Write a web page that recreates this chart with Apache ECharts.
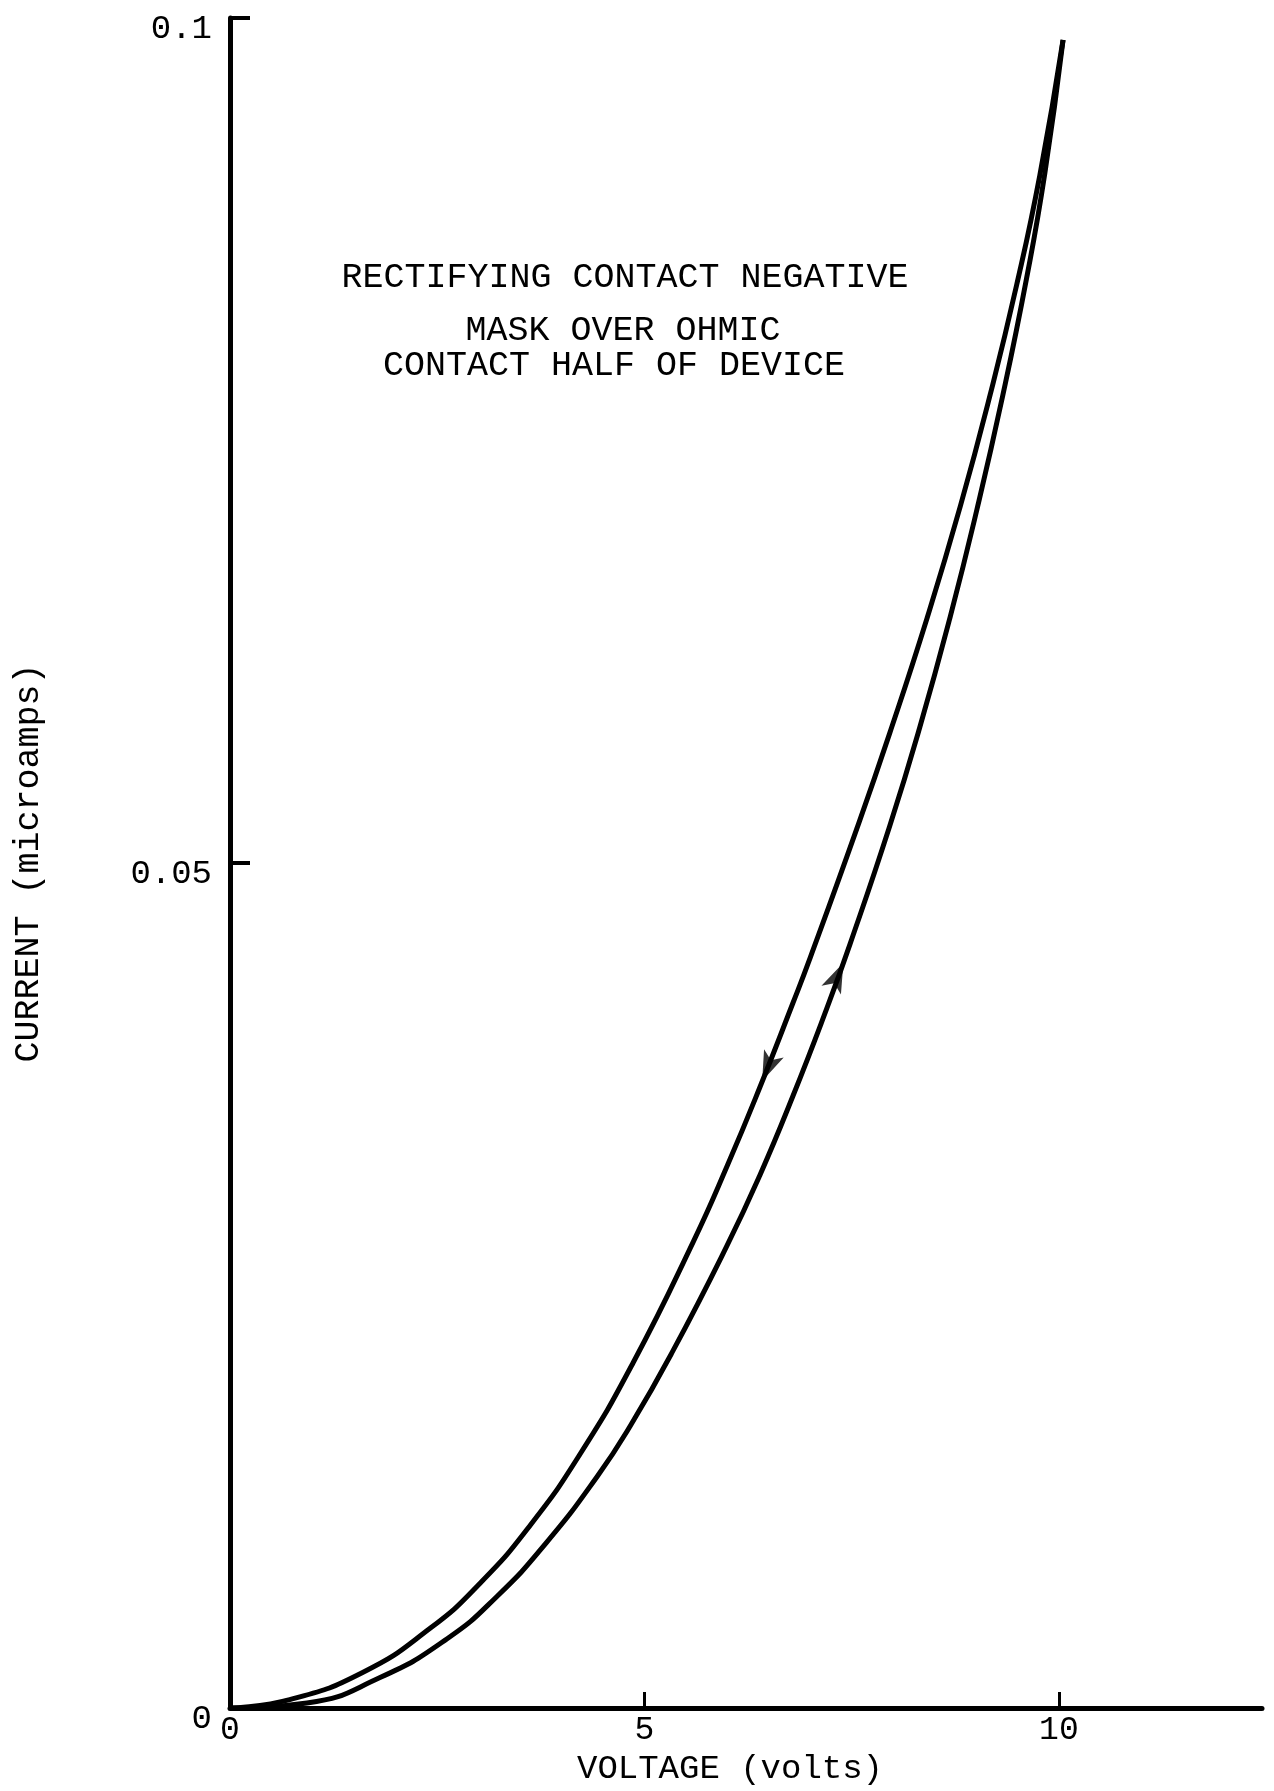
<!DOCTYPE html>
<html>
<head>
<meta charset="utf-8">
<script src="https://cdn.jsdelivr.net/npm/echarts@6/dist/echarts.min.js"></script>
<style>
  html, body { margin: 0; padding: 0; background: #ffffff; }
  #chart { width: 1274px; height: 1791px; }
</style>
</head>
<body>
<div id="chart"></div>
<script>
// Upper branch (voltage decreasing): volts / microamps
const upperVolts   = [0, 0.72, 1.60, 2.41, 3.02, 3.62, 4.22, 4.86, 5.59, 6.00, 6.39, 6.79, 7.00, 7.56, 7.96, 8.41, 8.81, 9.17, 9.49, 9.77, 10.05];
const upperCurrent = [0, 0.0005, 0.0021, 0.0047, 0.0074, 0.0108, 0.0150, 0.0204, 0.0276, 0.0321, 0.0367, 0.0417, 0.0444, 0.0520, 0.0577, 0.0645, 0.0711, 0.0777, 0.0842, 0.0907, 0.0987];
// Lower branch (voltage increasing)
const lowerVolts   = [0, 0.93, 1.81, 2.62, 3.22, 3.82, 4.43, 4.83, 5.34, 5.99, 6.39, 6.79, 7.20, 7.48, 7.96, 8.32, 8.69, 9.01, 9.32, 9.61, 9.83, 10.05];
const lowerCurrent = [0, 0.0003, 0.0018, 0.0041, 0.0066, 0.0098, 0.0137, 0.0167, 0.0211, 0.0273, 0.0315, 0.0362, 0.0414, 0.0452, 0.0522, 0.0580, 0.0646, 0.0709, 0.0776, 0.0846, 0.0908, 0.0987];
// Direction arrows: volts, microamps, rotation (degrees)
const arrowVolts   = [6.42, 7.40];
const arrowCurrent = [0.0371, 0.0441];
const arrowRotate  = [157, -24];
// Axis ticks / labels
const xLabelValues = [0, 5, 10];
const xTickValues  = [5, 10];
const annotationLines = ['RECTIFYING CONTACT NEGATIVE', 'MASK OVER OHMIC', 'CONTACT HALF OF DEVICE'];
const xAxisTitle = 'VOLTAGE (volts)';
const yAxisTitle = 'CURRENT (microamps)';

const FONT = '"Liberation Mono", "DejaVu Sans Mono", monospace';
const INK = '#000000';

const chart = echarts.init(document.getElementById('chart'), null, { renderer: 'canvas' });

const pairs = (xs, ys) => xs.map((x, i) => [x, ys[i]]);

const option = {
  backgroundColor: '#ffffff',
  animation: false,
  grid: { left: 230, top: 18, right: 12, bottom: 83, containLabel: false },
  xAxis: {
    type: 'value',
    min: 0,
    max: 12.45,
    interval: 5,
    name: xAxisTitle,
    nameLocation: 'middle',
    nameGap: 42,
    nameTextStyle: { fontFamily: FONT, fontSize: 34, color: INK, padding: [0, 32, 0, 0] },
    axisLine: { show: true, lineStyle: { color: INK, width: 5 } },
    axisTick: { show: true, inside: true, length: 16, lineStyle: { color: INK, width: 3 }, customValues: xTickValues },
    axisLabel: { fontFamily: FONT, fontSize: 33, color: INK, margin: 6, customValues: xLabelValues },
    splitLine: { show: false }
  },
  yAxis: {
    type: 'value',
    min: 0,
    max: 0.1,
    interval: 0.05,
    name: yAxisTitle,
    nameLocation: 'middle',
    nameGap: 184,
    nameRotate: 90,
    nameTextStyle: { fontFamily: FONT, fontSize: 35, color: INK },
    axisLine: { show: true, lineStyle: { color: INK, width: 5 } },
    axisTick: { show: true, inside: true, length: 20, lineStyle: { color: INK, width: 4 } },
    axisLabel: { fontFamily: FONT, fontSize: 34, color: INK, margin: 18, verticalAlign: 'top', lineHeight: 22 },
    splitLine: { show: false }
  },
  series: [
    {
      name: 'decreasing',
      type: 'line',
      smooth: 0.5,
      showSymbol: false,
      symbol: 'none',
      lineStyle: { color: INK, width: 5 },
      data: pairs(upperVolts, upperCurrent)
    },
    {
      name: 'increasing',
      type: 'line',
      smooth: 0.5,
      showSymbol: false,
      symbol: 'none',
      lineStyle: { color: INK, width: 5 },
      data: pairs(lowerVolts, lowerCurrent)
    },
    {
      name: 'arrows',
      type: 'scatter',
      symbol: 'arrow',
      symbolSize: [16, 30],
      itemStyle: { color: INK },
      data: arrowVolts.map((v, i) => ({ value: [v, arrowCurrent[i]], symbolRotate: arrowRotate[i] }))
    }
  ],
  graphic: [
    { type: 'text', style: { text: annotationLines[0], x: 625, y: 278, textAlign: 'center', textVerticalAlign: 'middle', font: '35px ' + FONT, fill: INK } },
    { type: 'text', style: { text: annotationLines[1], x: 623, y: 331, textAlign: 'center', textVerticalAlign: 'middle', font: '35px ' + FONT, fill: INK } },
    { type: 'text', style: { text: annotationLines[2], x: 614, y: 366, textAlign: 'center', textVerticalAlign: 'middle', font: '35px ' + FONT, fill: INK } }
  ]
};

chart.setOption(option);
</script>
</body>
</html>
